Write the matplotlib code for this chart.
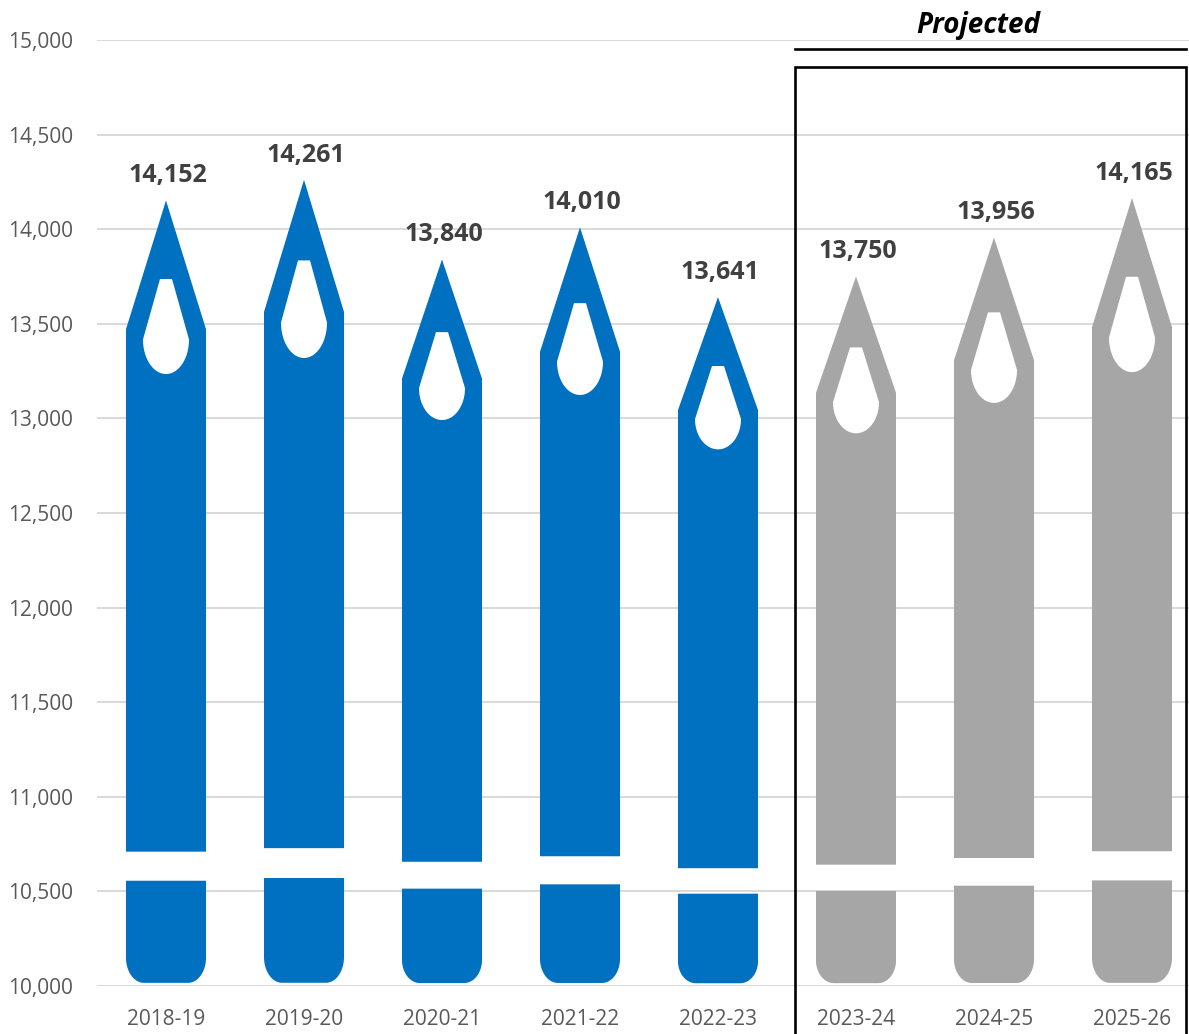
import numpy as np
import matplotlib
matplotlib.use("Agg")
import matplotlib.pyplot as plt
from matplotlib.patches import Polygon, Rectangle
from matplotlib.lines import Line2D

# ---- data ----
categories = ["2018-19", "2019-20", "2020-21", "2021-22", "2022-23",
              "2023-24", "2024-25", "2025-26"]
values = [14152, 14261, 13840, 14010, 13641, 13750, 13956, 14165]
projected = [False, False, False, False, False, True, True, True]
value_labels = ["14,152", "14,261", "13,840", "14,010", "13,641",
                "13,750", "13,956", "14,165"]
y_ticks = [10000, 10500, 11000, 11500, 12000, 12500, 13000, 13500, 14000, 14500, 15000]

BLUE = "#0070C0"
GRAY = "#A6A6A6"
BASE = 10000

W, H = 1189, 1034
fig = plt.figure(figsize=(W / 100, H / 100), dpi=100)
ax = fig.add_axes([97 / W, 48 / H, 1104 / W, 946 / H])
ax.set_xlim(-0.5, len(categories) - 0.5)
ax.set_ylim(10000, 15000)

for s in ax.spines.values():
    s.set_visible(False)
ax.set_axisbelow(True)
ax.yaxis.grid(True, color="#D9D9D9", linewidth=1.4)
ax.set_yticks(y_ticks)
ax.set_yticklabels([f"{t:,}" for t in y_ticks])
ax.set_xticks(range(len(categories)))
ax.set_xticklabels(categories)
ax.tick_params(axis="both", length=0, labelsize=15, labelcolor="#595959")
ax.tick_params(axis="y", pad=17)
ax.tick_params(axis="x", pad=16.5)
for lab in ax.get_xticklabels() + ax.get_yticklabels():
    lab.set_fontfamily("Open Sans")

hw = 0.29  # half width of the pencil in category units


def arc(cx, cy, rx, ry, t0, t1, n=30):
    t = np.linspace(t0, t1, n)
    return np.column_stack([cx + rx * np.cos(t), cy + ry * np.sin(t)])


for i, (v, proj) in enumerate(zip(values, projected)):
    col = GRAY if proj else BLUE
    h = v - BASE
    fy = lambda f: BASE + f * h
    c = i
    # eraser (bottom part with rounded corners)
    rx = 0.45 * hw
    ry = 0.032 * h
    y0 = fy(0.004)
    y1 = fy(0.134)
    pts = [(c - hw, y1)]
    pts += list(arc(c - hw + rx, y0 + ry, rx, ry, np.pi, 1.5 * np.pi))
    pts += list(arc(c + hw - rx, y0 + ry, rx, ry, 1.5 * np.pi, 2 * np.pi))
    pts += [(c + hw, y1)]
    ax.add_patch(Polygon(pts, closed=True, facecolor=col, edgecolor="none", zorder=2))
    # body + sharpened tip
    body = [(c - hw, fy(0.171)), (c + hw, fy(0.171)), (c + hw, fy(0.836)),
            (c, v), (c - hw, fy(0.836))]
    ax.add_patch(Polygon(body, closed=True, facecolor=col, edgecolor="none", zorder=2))
    # white wood hole
    ex = 0.575 * hw
    ey = 0.044 * h
    yc = fy(0.823)
    hole = [(c - 0.15 * hw, fy(0.90)), (c + 0.15 * hw, fy(0.90)), (c + ex, yc)]
    hole += list(arc(c, yc, ex, ey, 0, -np.pi, 40))
    ax.add_patch(Polygon(hole, closed=True, facecolor="white", edgecolor="none", zorder=3))
    # value label
    ax.annotate(value_labels[i], (c, v), xytext=(1.5, 13), textcoords="offset points",
                ha="center", va="baseline", fontsize=18, fontweight="bold",
                color="#404040", fontfamily="Open Sans", zorder=5)

# projected box
x_left, x_right = 4.558, 7.391
ax.add_patch(Rectangle((x_left, 9000), x_right - x_left, 14857 - 9000,
                       facecolor="none", edgecolor="black", linewidth=1.9,
                       clip_on=False, zorder=4))
ax.add_line(Line2D([x_left, x_right], [14952, 14952], color="black",
                   linewidth=1.9, clip_on=False, zorder=4))
ax.text(5.884, 15075, "Projected", ha="center", va="center", fontsize=20,
        fontweight="bold", fontstyle="italic", color="black",
        fontfamily="Open Sans", clip_on=False)

fig.savefig("out.png", dpi=100)
